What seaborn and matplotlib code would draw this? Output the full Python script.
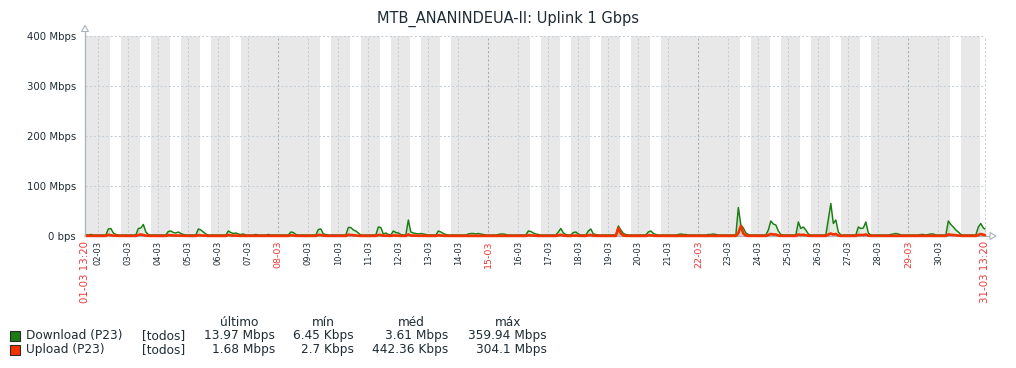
import matplotlib
matplotlib.use("Agg")
import matplotlib.pyplot as plt
from matplotlib.patches import Rectangle, Polygon
from matplotlib.lines import Line2D
import pandas as pd
import seaborn as sns

# ---------------- data (Mbps), one value every 2 h ----------------
# day 1: 14h..22h ; days 2-30: 00h..22h ; day 31: 00h..12h ; + final sample at 31-03 13:20
download_mbps = [
    2.5, 2, 3, 2, 2,                                   # 01-03
    2, 2, 2, 2, 14, 15, 6, 3, 2, 2, 2, 2,              # 02-03
    2, 2, 2, 2, 15, 16, 23, 8, 3, 2, 2, 2,             # 03-03
    2, 2, 2, 2, 9, 10, 7, 6, 8, 5, 3, 2,               # 04-03
    2, 2, 2, 2, 14, 12, 8, 4, 2, 2, 2, 2,              # 05-03
    2, 2, 2, 2, 10, 7, 5, 6, 4, 3, 4, 2,               # 06-03
    2, 2, 2, 3, 2, 2, 2, 2, 3, 2, 2, 2,                # 07-03
    2, 2, 2, 2, 2, 8, 7, 3, 2, 2, 2, 2,                # 08-03
    2, 2, 2, 2, 13, 14, 4, 3, 2, 2, 2, 2,              # 09-03
    2, 2, 2, 2, 17, 17, 12, 10, 6, 2, 2, 2,            # 10-03
    2, 2, 2, 2, 18, 17, 4, 6, 3, 2, 10, 7,             # 11-03
    6, 3, 2, 2, 32, 8, 6, 5, 4, 5, 4, 3,               # 12-03
    2, 2, 2, 2, 10, 8, 5, 3, 2, 2, 2, 2,               # 13-03
    2, 2, 2, 2, 4, 5, 5, 4, 5, 4, 3, 2,                # 14-03
    2, 2, 2, 2, 3, 4, 4, 3, 2, 2, 2, 2,                # 15-03
    2, 2, 2, 2, 10, 9, 6, 4, 3, 2, 2, 2,               # 16-03
    2, 2, 2, 2, 8, 15, 6, 3, 2, 2, 7, 8,               # 17-03
    4, 2, 2, 2, 10, 14, 4, 3, 2, 2, 2, 2,              # 18-03
    2, 2, 2, 2, 20, 12, 5, 3, 2, 2, 2, 2,              # 19-03
    2, 2, 2, 2, 8, 10, 5, 3, 2, 2, 2, 2,               # 20-03
    2, 2, 2, 2, 3, 4, 3, 3, 2, 2, 2, 2,                # 21-03
    2, 2, 2, 2, 3, 3, 4, 3, 2, 2, 2, 2,                # 22-03
    2, 2, 2, 2, 57, 22, 16, 6, 3, 2, 2, 2,             # 23-03
    2, 2, 2, 2, 12, 30, 24, 22, 10, 3, 2, 2,           # 24-03
    2, 2, 2, 2, 28, 15, 18, 12, 4, 2, 2, 2,            # 25-03
    2, 2, 2, 2, 34, 65, 25, 32, 8, 2, 2, 2,            # 26-03
    2, 2, 2, 2, 18, 15, 16, 28, 6, 2, 2, 2,            # 27-03
    2, 2, 2, 2, 2, 3, 4, 5, 4, 2, 2, 2,                # 28-03
    2, 2, 2, 2, 2, 3, 3, 2, 3, 4, 4, 2,                # 29-03
    2, 2, 2, 2, 30, 23, 18, 12, 8, 3, 2, 2,            # 30-03
    2, 2, 2, 2, 18, 25, 16,                            # 31-03
    13.97,                                             # 31-03 13:20
]

upload_mbps = [
    0.4, 0.3, 0.4, 0.3, 0.3,                                        # 01-03
    0.3, 0.3, 0.3, 0.3, 2.5, 1.5, 0.8, 0.5, 0.4, 0.3, 0.3, 0.3,     # 02-03
    0.3, 0.3, 0.3, 0.3, 2, 3, 2, 0.8, 0.4, 0.3, 0.3, 0.3,           # 03-03
    0.3, 0.3, 0.3, 0.3, 1.5, 1.5, 1, 1, 1.2, 0.8, 0.4, 0.3,         # 04-03
    0.3, 0.3, 0.3, 0.3, 1.5, 1.2, 0.8, 0.5, 0.3, 0.3, 0.3, 0.3,     # 05-03
    0.3, 0.3, 0.3, 0.3, 2, 1.2, 0.8, 0.8, 0.5, 0.4, 0.4, 0.3,       # 06-03
    0.3, 0.3, 0.3, 0.3, 0.3, 0.3, 0.3, 0.3, 0.3, 0.3, 0.3, 0.3,     # 07-03
    0.3, 0.3, 0.3, 0.3, 0.3, 1.5, 1, 0.4, 0.3, 0.3, 0.3, 0.3,       # 08-03
    0.3, 0.3, 0.3, 0.3, 2, 2, 0.6, 0.4, 0.3, 0.3, 0.3, 0.3,         # 09-03
    0.3, 0.3, 0.3, 0.3, 2.5, 2, 1.5, 1, 0.6, 0.3, 0.3, 0.3,         # 10-03
    0.3, 0.3, 0.3, 0.3, 2, 2, 0.5, 0.8, 0.4, 0.3, 1.2, 0.8,         # 11-03
    0.6, 0.3, 0.3, 0.3, 3, 1, 0.8, 0.6, 0.5, 0.5, 0.4, 0.3,         # 12-03
    0.3, 0.3, 0.3, 0.3, 1.5, 1, 0.6, 0.4, 0.3, 0.3, 0.3, 0.3,       # 13-03
    0.3, 0.3, 0.3, 0.3, 0.4, 0.5, 0.5, 0.4, 0.5, 0.4, 0.3, 0.3,     # 14-03
    0.3, 0.3, 0.3, 0.3, 0.3, 0.4, 0.4, 0.3, 0.3, 0.3, 0.3, 0.3,     # 15-03
    0.3, 0.3, 0.3, 0.3, 1.5, 1.2, 0.8, 0.5, 0.3, 0.3, 0.3, 0.3,     # 16-03
    0.3, 0.3, 0.3, 0.3, 1.2, 2.5, 0.8, 0.4, 0.3, 0.3, 0.8, 1,       # 17-03
    0.5, 0.3, 0.3, 0.3, 1.5, 2, 0.5, 0.4, 0.3, 0.3, 0.3, 0.3,       # 18-03
    0.3, 0.3, 0.3, 0.3, 16, 5, 1, 0.4, 0.3, 0.3, 0.3, 0.3,          # 19-03
    0.3, 0.3, 0.3, 0.3, 1.2, 1.5, 0.6, 0.4, 0.3, 0.3, 0.3, 0.3,     # 20-03
    0.3, 0.3, 0.3, 0.3, 0.3, 0.4, 0.3, 0.3, 0.3, 0.3, 0.3, 0.3,     # 21-03
    0.3, 0.3, 0.3, 0.3, 0.3, 0.3, 0.4, 0.3, 0.3, 0.3, 0.3, 0.3,     # 22-03
    0.3, 0.3, 0.3, 0.3, 6, 20, 5, 1, 0.4, 0.3, 0.3, 0.3,            # 23-03
    0.3, 0.3, 0.3, 0.3, 2, 4, 3, 3, 1, 0.4, 0.3, 0.3,               # 24-03
    0.3, 0.3, 0.3, 0.3, 3, 2, 2.5, 1.5, 0.5, 0.3, 0.3, 0.3,         # 25-03
    0.3, 0.3, 0.3, 0.3, 3, 5, 3, 4, 1, 0.3, 0.3, 0.3,               # 26-03
    0.3, 0.3, 0.3, 0.3, 2, 2, 2, 3, 0.8, 0.3, 0.3, 0.3,             # 27-03
    0.3, 0.3, 0.3, 0.3, 0.3, 0.3, 0.4, 0.5, 0.4, 0.3, 0.3, 0.3,     # 28-03
    0.3, 0.3, 0.3, 0.3, 0.3, 0.3, 0.3, 0.3, 0.3, 0.4, 0.4, 0.3,     # 29-03
    0.3, 0.3, 0.3, 0.3, 3, 2.5, 2, 1.5, 1, 0.4, 0.3, 0.3,           # 30-03
    0.3, 0.3, 0.3, 0.3, 2, 4, 2.5,                                  # 31-03
    1.68,                                                           # 31-03 13:20
]

title = "MTB_ANANINDEUA-II: Uplink 1 Gbps"
y_tick_values = [0, 100, 200, 300, 400]
y_tick_labels = ["0 bps", "100 Mbps", "200 Mbps", "300 Mbps", "400 Mbps"]
series_names = ["Download (P23)", "Upload (P23)"]
series_colors = ["#1A7C11", "#F63100"]
series_scope = ["[todos]", "[todos]"]
stat_headers = ["último", "mín", "méd", "máx"]
download_stats = ["13.97 Mbps", "6.45 Kbps", "3.61 Mbps", "359.94 Mbps"]
upload_stats = ["1.68 Mbps", "2.7 Kbps", "442.36 Kbps", "304.1 Mbps"]

start = pd.Timestamp("2020-03-01 13:20")
end = pd.Timestamp("2020-03-31 13:20")
times = list(pd.date_range("2020-03-01 14:00", "2020-03-31 12:00", freq="2h")) + [end]

df = pd.DataFrame({"time": times, "Download": download_mbps, "Upload": upload_mbps})

# ---------------- figure ----------------
sns.set_style("white")
plt.rcParams["font.family"] = ["DejaVu Sans"]

W, H = 1016, 368
fig = plt.figure(figsize=(W / 100, H / 100), dpi=100)
fig.patch.set_facecolor("white")

L, R, T, B = 85, 985, 36, 236
ax = fig.add_axes([L / W, (H - B) / H, (R - L) / W, (B - T) / H])
ax.set_facecolor("#e8e8e8")

def px(x, y):
    return (x / W, 1 - y / H)

TXT = "#1f2c33"
GRID_LIGHT = "#c5ced6"
GRID_DARK = "#9fadb8"
AXIS = "#a9b3bc"
RED = "#f03a3a"

# working-time (white) bands: Mon-Fri 09:00-18:00
for d in pd.date_range("2020-03-01", "2020-03-31", freq="D"):
    if d.weekday() < 5:
        a = max(d + pd.Timedelta(hours=9), start)
        b = min(d + pd.Timedelta(hours=18), end)
        if b > a:
            ax.axvspan(a, b, color="white", lw=0, zorder=0)

# grid
for v in y_tick_values[1:]:
    ax.axhline(v, color=GRID_LIGHT, lw=0.75, ls=(0, (2, 2)), zorder=1)
day_ticks = list(pd.date_range("2020-03-02", "2020-03-30", freq="D"))
for d in day_ticks:
    col = GRID_DARK if d.weekday() == 6 else GRID_LIGHT
    ax.axvline(d, color=col, lw=0.75, ls=(0, (2, 2)), zorder=1)
ax.axvline(end, color=GRID_LIGHT, lw=0.75, ls=(0, (2, 2)), zorder=1, clip_on=False)

# bottom axis line (under the series)
ax.plot([0, (990 - L) / (R - L)], [0, 0], transform=ax.transAxes, color=AXIS,
        lw=0.9, clip_on=False, zorder=2.5)

# series
ax.fill_between(df["time"], df["Download"], 0, color=series_colors[0], alpha=0.13, lw=0, zorder=2)
ax.fill_between(df["time"], df["Upload"], 0, color=series_colors[1], alpha=0.15, lw=0, zorder=2)
sns.lineplot(data=df, x="time", y="Download", color=series_colors[0], lw=1.05, ax=ax, zorder=3)
sns.lineplot(data=df, x="time", y="Upload", color=series_colors[1], lw=1.9, ax=ax, zorder=4)
for ln in ax.get_lines()[-2:]:
    ln.set_clip_on(False)

ax.set_xlim(start, end)
ax.set_ylim(0, 400)
ax.set_xlabel("")
ax.set_ylabel("")

# y ticks
ax.set_yticks(y_tick_values)
ax.set_yticklabels(y_tick_labels)
ax.tick_params(axis="y", length=0, pad=6.5, labelsize=7.3, labelcolor=TXT)

# x ticks
xt = [start] + day_ticks + [end]
xl = [start.strftime("%d-%m %H:%M")] + [d.strftime("%d-%m") for d in day_ticks] + [end.strftime("%d-%m %H:%M")]
ax.set_xticks(xt)
ax.set_xticklabels(xl, rotation=90)
ax.tick_params(axis="x", length=0, pad=3.5, labelsize=6.0, labelcolor=TXT)
labels = ax.get_xticklabels()
for i, lab in enumerate(labels):
    if i == 0 or i == len(labels) - 1:
        lab.set_color(RED)
        lab.set_fontsize(7.4)
    elif day_ticks[i - 1].weekday() == 6:
        lab.set_color(RED)
        lab.set_fontsize(6.8)

for s in ["top", "right", "left", "bottom"]:
    ax.spines[s].set_visible(False)

# left axis line with arrow heads
fig.add_artist(Line2D([px(L, 0)[0], px(L, 0)[0]], [px(0, B)[1], px(0, 31.5)[1]],
                      transform=fig.transFigure, color=AXIS, lw=0.9, zorder=5))
fig.add_artist(Polygon([px(L - 3.5, 31.5), px(L + 3.5, 31.5), px(L, 25.5)], closed=True,
                       transform=fig.transFigure, facecolor="white", edgecolor=AXIS, lw=0.8))
fig.add_artist(Polygon([px(990, B - 3.5), px(990, B + 3.5), px(996, B)], closed=True,
                       transform=fig.transFigure, facecolor="white", edgecolor=AXIS, lw=0.8))

# title
fig.text(*px(508, 19), title, ha="center", va="center", fontsize=10.5, color=TXT)

# legend
FS = 8.7
header_centers = [239, 323, 411, 508]
value_rights = [275, 354, 448, 547]
for hc, h in zip(header_centers, stat_headers):
    fig.text(*px(hc, 322), h, ha="center", va="center", fontsize=FS, color=TXT)
rows = [download_stats, upload_stats]
for i, (name, col, scope, stats) in enumerate(zip(series_names, series_colors, series_scope, rows)):
    yc = 336 + 14 * i
    fig.add_artist(Rectangle(px(10, yc + 5), 10 / W, 10 / H, transform=fig.transFigure,
                             facecolor=col, edgecolor="#2b2b2b", lw=0.8))
    fig.text(*px(26, yc), name, ha="left", va="center", fontsize=FS, color=TXT)
    fig.text(*px(142, yc), scope, ha="left", va="center", fontsize=FS, color=TXT)
    for xr, s in zip(value_rights, stats):
        fig.text(*px(xr, yc), s, ha="right", va="center", fontsize=FS, color=TXT)

fig.savefig("out.png", dpi=100, facecolor="white")
